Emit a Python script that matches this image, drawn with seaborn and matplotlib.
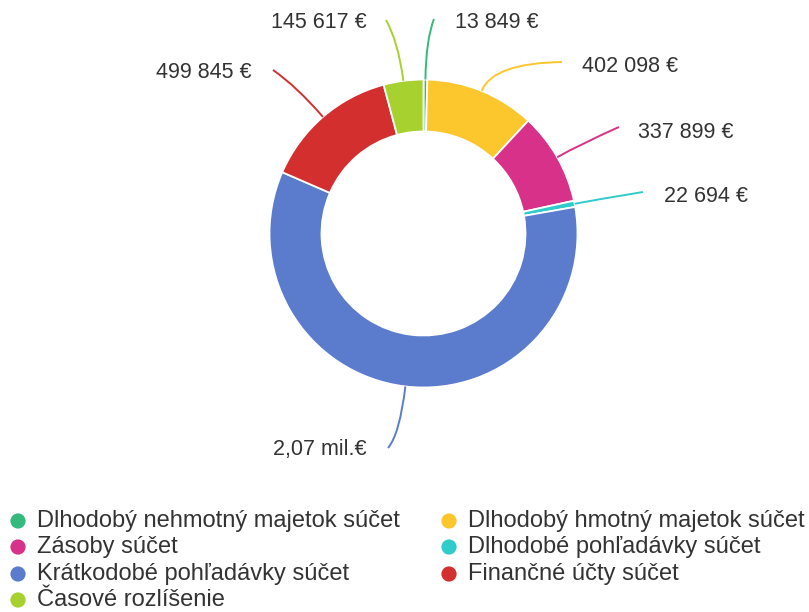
import numpy as np
import matplotlib
matplotlib.use("Agg")
import matplotlib.pyplot as plt
from matplotlib.path import Path
from matplotlib.patches import PathPatch
import seaborn as sns

categories = ["Dlhodobý nehmotný majetok súčet", "Dlhodobý hmotný majetok súčet",
              "Zásoby súčet", "Dlhodobé pohľadávky súčet",
              "Krátkodobé pohľadávky súčet", "Finančné účty súčet", "Časové rozlíšenie"]
values = [13849, 402098, 337899, 22694, 2070000, 499845, 145617]
value_labels = ["13 849 €", "402 098 €", "337 899 €", "22 694 €", "2,07 mil.€", "499 845 €", "145 617 €"]
colors = ["#35b97c", "#fcc62d", "#d8318a", "#30cccc", "#5b7bcd", "#d42f2f", "#a6d12f"]

sns.set_theme(style="white")
plt.rcParams["font.family"] = ["Liberation Sans", "DejaVu Sans"]

W, H = 809, 612
fig = plt.figure(figsize=(W / 100, H / 100), dpi=100)
ax = fig.add_axes([0, 0, 1, 1])


def Y(y):
    # convert image-style (top-down) pixel y to axis y
    return H - y


cx, cy, R, w = 423.5, 233.5, 154, 52
wedges, _ = ax.pie(values, colors=colors, startangle=90, counterclock=False,
                   radius=R, center=(cx, Y(cy)), frame=True,
                   wedgeprops=dict(width=w, edgecolor="white", linewidth=1.3))
ax.set_xlim(0, W)
ax.set_ylim(0, H)
ax.set_aspect("equal")
ax.axis("off")

# label placement (layout): end point of leader, text anchor, alignment, control offset
layout = [
    ((434, 19), (455, 22), "left", 40),
    ((562, 62), (582, 67), "left", 30),
    ((619, 127), (638, 132), "left", 25),
    ((643, 192), (664, 197), "left", 20),
    ((388, 448), (367, 450), "right", 48),
    ((273, 70), (252, 73), "right", 40),
    ((386, 20), (367, 22), "right", 40),
]

total = sum(values)
cum = 0
for i, v in enumerate(values):
    mid = 90 - (cum + v / 2) / total * 360
    cum += v
    a = np.deg2rad(mid)
    p0 = (cx + R * np.cos(a), Y(cy) + R * np.sin(a))
    end, tpos, ha, ext = layout[i]
    p1 = (cx + (R + ext) * np.cos(a), Y(cy) + (R + ext) * np.sin(a))
    path = Path([p0, p1, (end[0], Y(end[1]))], [Path.MOVETO, Path.CURVE3, Path.CURVE3])
    ax.add_patch(PathPatch(path, facecolor="none", edgecolor=colors[i], lw=1.4))
    ax.text(tpos[0], Y(tpos[1]), value_labels[i], ha=ha, va="center",
            fontsize=15.5, color="#333333")

# legend (row-major, two columns)
col_x = [18, 449]
row_y = [521, 547, 574, 600]
for i, lab in enumerate(categories):
    r, c = i // 2, i % 2
    ax.scatter([col_x[c]], [Y(row_y[r])], s=120, color=colors[i], edgecolor="none")
    ax.text(col_x[c] + 19, Y(row_y[r]), lab, ha="left", va="center",
            fontsize=17, color="#333333")

fig.savefig("out.png", dpi=100, facecolor="white")
